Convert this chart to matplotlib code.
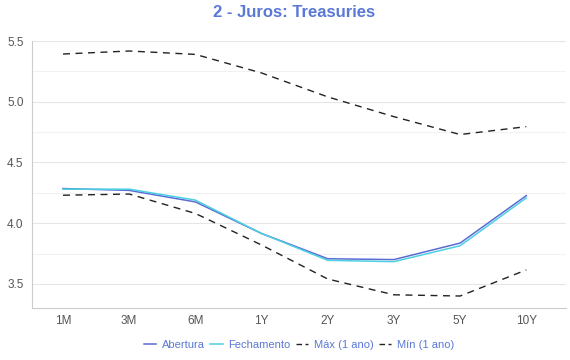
import matplotlib.pyplot as plt
from matplotlib.ticker import MultipleLocator

plt.rcParams['font.family'] = ['Liberation Sans', 'DejaVu Sans']

# Data
prazos = ['1M', '3M', '6M', '1Y', '2Y', '3Y', '5Y', '10Y']
abertura = [4.285, 4.27, 4.175, 3.915, 3.707, 3.70, 3.836, 4.227]
fechamento = [4.28, 4.28, 4.19, 3.915, 3.694, 3.683, 3.814, 4.208]
maximo = [5.393, 5.418, 5.39, 5.237, 5.04, 4.877, 4.73, 4.795]
minimo = [4.23, 4.24, 4.08, 3.82, 3.54, 3.41, 3.40, 3.615]

blue = '#5b6bd6'
cyan = '#4dd0e1'
text_blue = '#5a78d6'

fig = plt.figure(figsize=(5.7, 3.6), dpi=100)
ax = fig.add_axes([0.056, 0.144, 0.937, 0.742])

x = list(range(len(prazos)))
ax.plot(x, abertura, color=blue, lw=1.1, label='Abertura')
ax.plot(x, fechamento, color=cyan, lw=1.1, label='Fechamento')
ax.plot(x, maximo, color='#222222', lw=1.0, ls=(0, (5, 4)), label='Máx (1 ano)')
ax.plot(x, minimo, color='#222222', lw=1.0, ls=(0, (5, 4)), label='Mín (1 ano)')

ax.set_xlim(-0.47, 7.6)
ax.set_ylim(3.3, 5.5)
ax.set_xticks(x)
ax.set_xticklabels(prazos)
ax.yaxis.set_major_locator(MultipleLocator(0.5))
ax.yaxis.set_minor_locator(MultipleLocator(0.25))
ax.yaxis.set_major_formatter(plt.FormatStrFormatter('%.1f'))

ax.grid(axis='y', which='major', color='#e6e6e6', lw=0.8)
ax.grid(axis='y', which='minor', color='#f2f2f2', lw=0.8)
ax.set_axisbelow(True)

for s in ['top', 'right']:
    ax.spines[s].set_visible(False)
for s in ['left', 'bottom']:
    ax.spines[s].set_color('#cccccc')
ax.tick_params(axis='both', which='both', length=0, labelsize=8.5, colors='#555555')
ax.tick_params(axis='x', pad=5)
ax.tick_params(axis='y', pad=6)

fig.text(0.516, 0.965, '2 - Juros: Treasuries', ha='center', va='center', fontsize=12,
         fontweight='bold', color=text_blue)

leg = ax.legend(loc='lower center', bbox_to_anchor=(0.5, -0.195), ncol=4, frameon=False,
                fontsize=8, handlelength=1.1, handletextpad=0.5, columnspacing=0.5)
for t in leg.get_texts():
    t.set_color(text_blue)
for ln in leg.get_lines()[2:]:
    ln.set_linestyle((0, (4, 2.5)))

fig.savefig('out.png', dpi=100)
